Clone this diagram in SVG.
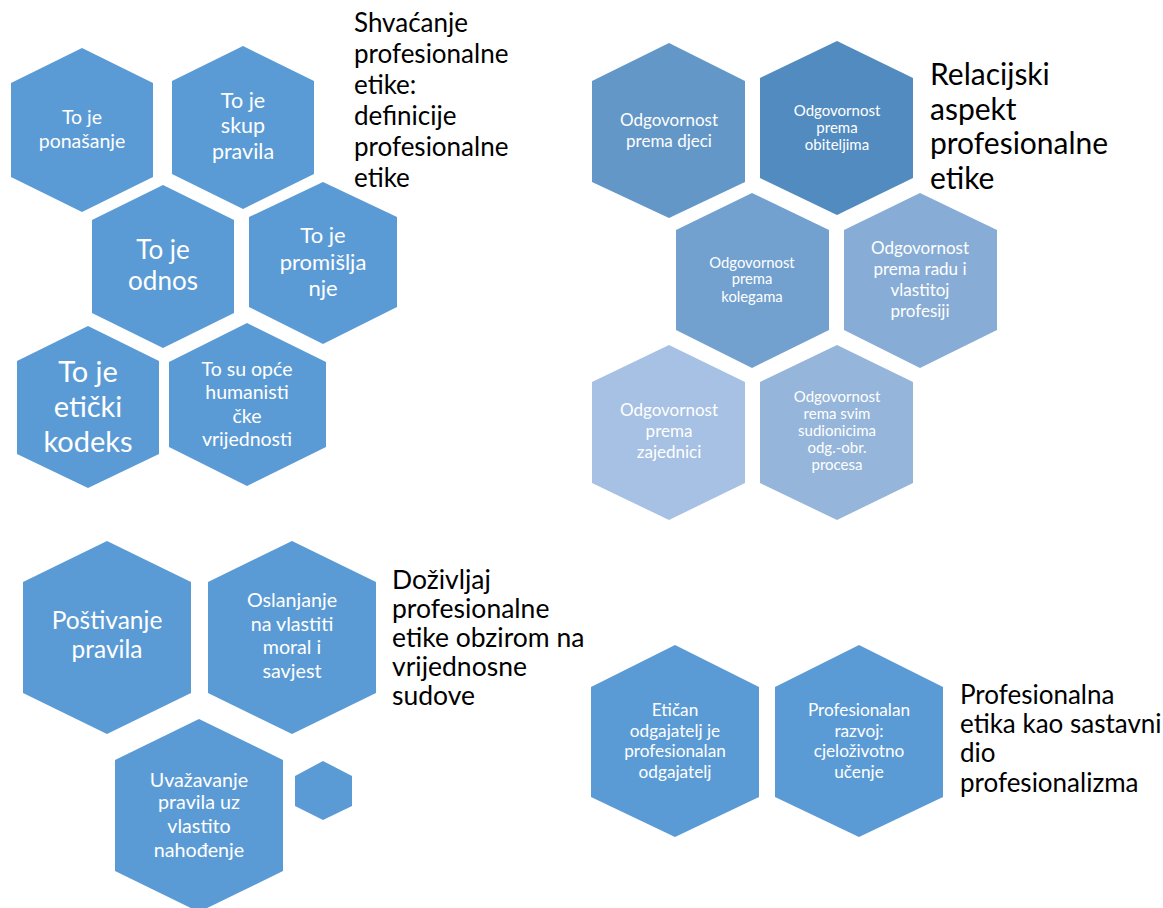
<svg xmlns="http://www.w3.org/2000/svg" width="1163" height="908" viewBox="0 0 1163 908">
<style>
.h{fill:#5B9BD5}
.t{fill:#ffffff;font-family:Lato,"Liberation Sans",sans-serif;text-anchor:middle}
.ti{fill:#000000;font-family:Lato,"Liberation Sans",sans-serif}
</style>
<rect width="1163" height="908" fill="#ffffff"/>
<g id="n1"><polygon class="h" points="82,48 153,83 153,177 82,212 11,177 11,83"/>
<text class="t" font-size="19.5"><tspan x="82" y="124">To je</tspan><tspan x="82" y="148">ponašanje</tspan></text></g>
<g id="n2"><polygon class="h" points="243,46 314,81 314,174 243,209 172,174 172,81"/>
<text class="t" font-size="21.5"><tspan x="243" y="108">To je</tspan><tspan x="243" y="133">skup</tspan><tspan x="243" y="159">pravila</tspan></text></g>
<g id="n3"><polygon class="h" points="163,185 234,220 234,313 163,348 92,313 92,220"/>
<text class="t" font-size="26"><tspan x="163" y="259">To je</tspan><tspan x="163" y="290">odnos</tspan></text></g>
<g id="n4"><polygon class="h" points="323,182 397,217 397,307 323,344 249,307 249,217"/>
<text class="t" font-size="22"><tspan x="323" y="243">To je</tspan><tspan x="323" y="270">promišlja</tspan><tspan x="323" y="296">nje</tspan></text></g>
<g id="n5"><polygon class="h" points="88,326 159,361 159,454 88,488 17,454 17,361"/>
<text class="t" font-size="29"><tspan x="88" y="382">To je</tspan><tspan x="88" y="417">etički</tspan><tspan x="88" y="452">kodeks</tspan></text></g>
<g id="n6"><polygon class="h" points="247,323 326,362 326,447 247,486 169,447 169,362"/>
<text class="t" font-size="19.5"><tspan x="247" y="376">To su opće</tspan><tspan x="247" y="399">humanisti</tspan><tspan x="247" y="423">čke</tspan><tspan x="247" y="446">vrijednosti</tspan></text></g>
<g id="title1"><text class="ti" font-size="26"><tspan x="354" y="32">Shvaćanje</tspan><tspan x="354" y="63">profesionalne</tspan><tspan x="354" y="94">etike:</tspan><tspan x="354" y="125">definicije</tspan><tspan x="354" y="156">profesionalne</tspan><tspan x="354" y="187">etike</tspan></text></g>

<g id="r1"><polygon fill="#6397C8" points="669,43 745,81 745,182 669,218 592,182 592,81"/>
<text class="t" font-size="17"><tspan x="669" y="126">Odgovornost</tspan><tspan x="669" y="147">prema djeci</tspan></text></g>
<g id="r2"><polygon fill="#528BC0" points="837,41 913,78 913,178 837,215 760,178 760,78"/>
<text class="t" font-size="15"><tspan x="837" y="116">Odgovornost</tspan><tspan x="837" y="133">prema</tspan><tspan x="837" y="150">obiteljima</tspan></text></g>
<g id="r3"><polygon fill="#72A1CF" points="752,193 829,230 829,330 752,368 676,330 676,230"/>
<text class="t" font-size="14.8"><tspan x="752" y="268">Odgovornost</tspan><tspan x="752" y="284">prema</tspan><tspan x="752" y="302">kolegama</tspan></text></g>
<g id="r4"><polygon fill="#87ADD6" points="920,193 997,230 997,330 920,368 844,330 844,230"/>
<text class="t" font-size="17"><tspan x="920" y="254">Odgovornost</tspan><tspan x="920" y="275">prema radu i</tspan><tspan x="920" y="296">vlastitoj</tspan><tspan x="920" y="317">profesiji</tspan></text></g>
<g id="r5"><polygon fill="#A6C1E3" points="669,345 745,382 745,483 669,520 592,483 592,382"/>
<text class="t" font-size="17"><tspan x="669" y="416">Odgovornost</tspan><tspan x="669" y="437">prema</tspan><tspan x="669" y="458">zajednici</tspan></text></g>
<g id="r6"><polygon fill="#95B5DA" points="837,345 913,382 913,483 837,520 760,483 760,382"/>
<text class="t" font-size="15"><tspan x="837" y="402">Odgovornost</tspan><tspan x="837" y="419">rema svim</tspan><tspan x="837" y="436">sudionicima</tspan><tspan x="837" y="453">odg.-obr.</tspan><tspan x="837" y="470">procesa</tspan></text></g>
<g id="title2"><text class="ti" font-size="30"><tspan x="930" y="85">Relacijski</tspan><tspan x="930" y="120">aspekt</tspan><tspan x="930" y="154">profesionalne</tspan><tspan x="930" y="189">etike</tspan></text></g>

<g id="b1"><polygon class="h" points="107,541 191,582 191,693 107,734 23,693 23,582"/>
<text class="t" font-size="24.5"><tspan x="107" y="629">Poštivanje</tspan><tspan x="107" y="658">pravila</tspan></text></g>
<g id="b2"><polygon class="h" points="292,541 376,582 376,693 292,734 208,693 208,582"/>
<text class="t" font-size="19.7"><tspan x="292" y="607">Oslanjanje</tspan><tspan x="292" y="631">na vlastiti</tspan><tspan x="292" y="654">moral i</tspan><tspan x="292" y="678">savjest</tspan></text></g>
<g id="b3"><polygon class="h" points="199,719 283,760 283,871 199,912 115,871 115,760"/>
<text class="t" font-size="19.7"><tspan x="199" y="787">Uvažavanje</tspan><tspan x="199" y="809">pravila uz</tspan><tspan x="199" y="833">vlastito</tspan><tspan x="199" y="857">nahođenje</tspan></text></g>
<g id="b4"><polygon class="h" points="323,761 352,776 352,806 323,820 295,806 295,776"/></g>
<g id="title3"><text class="ti" font-size="26.5"><tspan x="392" y="589">Doživljaj</tspan><tspan x="392" y="618">profesionalne</tspan><tspan x="392" y="647">etike obzirom na</tspan><tspan x="392" y="676">vrijednosne</tspan><tspan x="392" y="705">sudove</tspan></text></g>

<g id="p1"><polygon class="h" points="675,645 759,687 759,797 675,837 591,797 591,687"/>
<text class="t" font-size="17.2"><tspan x="675" y="716">Etičan</tspan><tspan x="675" y="737">odgajatelj je</tspan><tspan x="675" y="757">profesionalan</tspan><tspan x="675" y="778">odgajatelj</tspan></text></g>
<g id="p2"><polygon class="h" points="859,645 943,687 943,797 859,837 775,797 775,687"/>
<text class="t" font-size="17.2"><tspan x="859" y="716">Profesionalan</tspan><tspan x="859" y="737">razvoj:</tspan><tspan x="859" y="757">cjeloživotno</tspan><tspan x="859" y="778">učenje</tspan></text></g>
<g id="title4"><text class="ti" font-size="26"><tspan x="960" y="704">Profesionalna</tspan><tspan x="960" y="733">etika kao sastavni</tspan><tspan x="960" y="762">dio</tspan><tspan x="960" y="792">profesionalizma</tspan></text></g>
</svg>
